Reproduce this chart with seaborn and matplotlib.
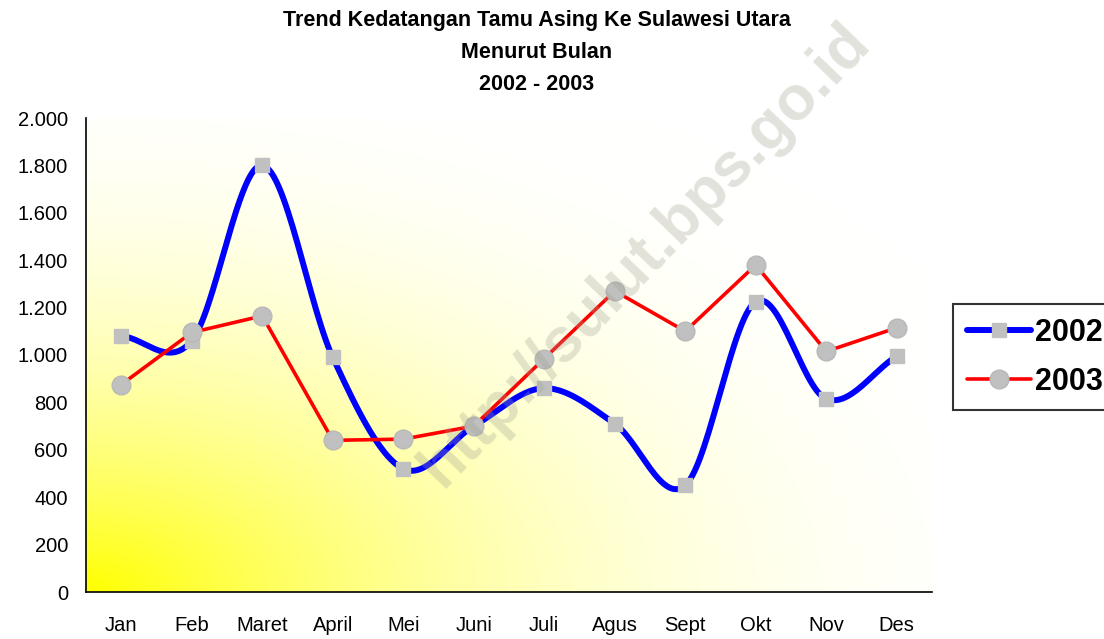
import numpy as np
import pandas as pd
import matplotlib
matplotlib.use("Agg")
import matplotlib.pyplot as plt
from matplotlib.lines import Line2D
from matplotlib.ticker import FuncFormatter, FixedLocator
import seaborn as sns

months = ["Jan", "Feb", "Maret", "April", "Mei", "Juni", "Juli", "Agus", "Sept", "Okt", "Nov", "Des"]
y2002 = [1080, 1060, 1800, 990, 520, 700, 860, 710, 450, 1225, 815, 995]
y2003 = [875, 1095, 1165, 640, 645, 700, 985, 1270, 1100, 1380, 1015, 1115]
yticks = [0, 200, 400, 600, 800, 1000, 1200, 1400, 1600, 1800, 2000]
title = "Trend Kedatangan Tamu Asing Ke Sulawesi Utara\nMenurut Bulan\n2002 - 2003"
watermark = "http://sulut.bps.go.id"

sns.set_style("white")
plt.rcParams["font.family"] = ["Liberation Sans", "DejaVu Sans"]
plt.rcParams["text.color"] = "black"
plt.rcParams["xtick.color"] = "black"
plt.rcParams["ytick.color"] = "black"
plt.rcParams["axes.labelcolor"] = "black"

fig = plt.figure(figsize=(11.04, 6.39), dpi=100)
ax = fig.add_axes([86/1104, 1-592/639, (932-86)/1104, (592-118)/639])

# gradient background (yellow from bottom-left corner)
nx, ny = 500, 300
u = np.linspace(0, 1, nx)[None, :]
v = np.linspace(0, 1, ny)[:, None]
d = np.sqrt(u**2 + v**2)
I = np.clip(1 - d/1.2, 0, 1)**2.3
img = np.ones((ny, nx, 3))
img[..., 2] = 1 - I
ax.imshow(img, extent=[-0.5, 11.5, 0, 2000], origin="lower", aspect="auto", zorder=0)

x = np.arange(len(months))

# Catmull-Rom smoothing for the 2002 series (Excel smoothed line)
def catmull(xs, ys, n=30):
    xs = np.asarray(xs, float); ys = np.asarray(ys, float)
    px = np.concatenate([[2*xs[0]-xs[1]], xs, [2*xs[-1]-xs[-2]]])
    py = np.concatenate([[2*ys[0]-ys[1]], ys, [2*ys[-1]-ys[-2]]])
    ox, oy = [], []
    for i in range(1, len(px)-2):
        t = np.linspace(0, 1, n, endpoint=False)
        for P, out in ((px, ox), (py, oy)):
            p0, p1, p2, p3 = P[i-1], P[i], P[i+1], P[i+2]
            m1 = (p2 - p0)/2; m2 = (p3 - p1)/2
            h00 = 2*t**3 - 3*t**2 + 1; h10 = t**3 - 2*t**2 + t
            h01 = -2*t**3 + 3*t**2; h11 = t**3 - t**2
            out.extend(h00*p1 + h10*m1 + h01*p2 + h11*m2)
    ox.append(xs[-1]); oy.append(ys[-1])
    return np.array(ox), np.array(oy)

sx, sy = catmull(x, y2002)
smooth = pd.DataFrame({"x": sx, "y": sy})
df02 = pd.DataFrame({"x": x, "y": y2002})
df03 = pd.DataFrame({"x": x, "y": y2003})

sns.lineplot(data=smooth, x="x", y="y", ax=ax, color="#0000FF", lw=4.3, sort=False,
             zorder=3, estimator=None)
sns.lineplot(data=df03, x="x", y="y", ax=ax, color="#FF0000", lw=2.6, zorder=4,
             estimator=None)
ax.plot(df02["x"], df02["y"], ls="none", marker="s", ms=10, mfc="#C0C0C0",
        mec="#C0C0C0", zorder=5)
ax.plot(df03["x"], df03["y"], ls="none", marker="o", ms=13.5, mfc="#C0C0C0",
        mec="#B8B8B8", zorder=6)

ax.set_xlim(-0.5, 11.5)
ax.set_ylim(0, 2000)
ax.set_xlabel(""); ax.set_ylabel("")
ax.set_xticks(x)
ax.set_xticklabels(months)
ax.xaxis.set_minor_locator(FixedLocator(np.arange(-0.5, 12, 1)))
ax.tick_params(axis="x", which="major", length=0, pad=17, labelsize=14.5, labelcolor="black")
ax.tick_params(axis="x", which="minor", length=6, width=1.2, direction="out", color="black")
ax.set_yticks(yticks)
ax.yaxis.set_major_formatter(FuncFormatter(lambda v, p: f"{int(v):,}".replace(",", ".")))
ax.tick_params(axis="y", length=6, width=1.2, direction="out", pad=7, labelsize=14.5,
               color="black", labelcolor="black")
for s in ["top", "right"]:
    ax.spines[s].set_visible(False)
for s in ["left", "bottom"]:
    ax.spines[s].set_color("black")
    ax.spines[s].set_linewidth(1.2)
    ax.spines[s].set_zorder(7)

fig.text(537/1104, 1-10/639, title, ha="center", va="top", fontsize=15.5, fontweight="bold",
         linespacing=1.7, color="black")

handles = [
    Line2D([], [], color="#0000FF", lw=4.3, marker="s", ms=10, mfc="#C0C0C0", mec="#C0C0C0"),
    Line2D([], [], color="#FF0000", lw=2.6, marker="o", ms=13.5, mfc="#C0C0C0", mec="#B8B8B8"),
]
leg = fig.legend(handles, ["2002", "2003"], loc="upper left",
                 bbox_to_anchor=(953/1104, 1-304/639), frameon=True, fancybox=False,
                 prop={"size": 22, "weight": "bold"}, handlelength=2.1, handletextpad=0.12,
                 borderpad=0.45, labelspacing=0.62, borderaxespad=0)
leg.get_frame().set_edgecolor("black")
leg.get_frame().set_linewidth(1.5)
for t in leg.get_texts():
    t.set_color("black")

fig.text(645/1104, 1-255/639, watermark, ha="center", va="center", rotation=46,
         fontsize=45, fontweight="bold", color="#A0A090", alpha=0.3, zorder=10)

fig.savefig("out.png", dpi=100)
